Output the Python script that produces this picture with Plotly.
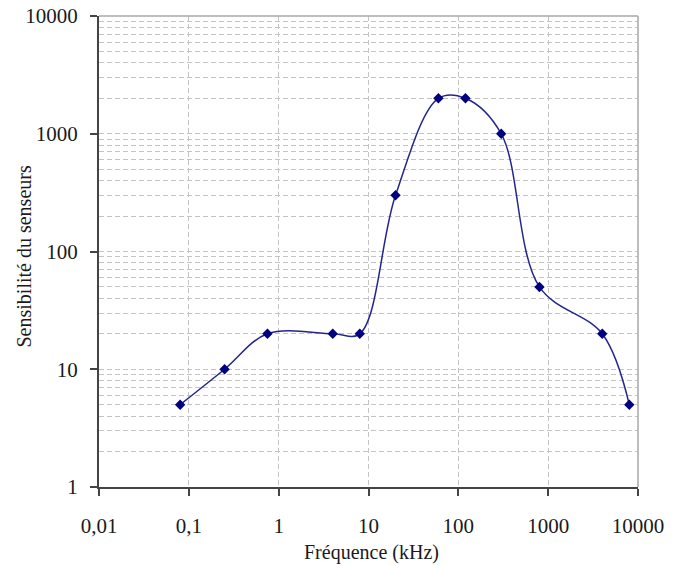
import plotly.graph_objects as go

# Data
frequence_khz = [0.08, 0.25, 0.75, 4, 8, 20, 60, 120, 300, 800, 4000, 8000]
sensibilite = [5, 10, 20, 20, 20, 300, 2000, 2000, 1000, 50, 20, 5]

x_tickvals = [0.01, 0.1, 1, 10, 100, 1000, 10000]
x_ticktext = ["0,01", "0,1", "1", "10", "100", "1000", "10000"]
y_tickvals = [1, 10, 100, 1000, 10000]
y_ticktext = ["1", "10", "100", "1000", "10000"]

FONT = "Liberation Serif"
GRID = "#c4c4c4"
NAVY = "#000080"
TXT = "#1a1a1a"

fig = go.Figure()
fig.add_trace(go.Scatter(
    x=frequence_khz, y=sensibilite,
    mode="lines+markers",
    line=dict(shape="spline", smoothing=1.0, color="#24248f", width=1.5),
    marker=dict(symbol="diamond", size=8, color=NAVY),
    showlegend=False,
))

fig.update_layout(
    width=673, height=566,
    margin=dict(l=99, r=35, t=16, b=79),
    paper_bgcolor="white", plot_bgcolor="white",
    font=dict(family=FONT, size=20, color=TXT),
    xaxis=dict(
        type="log", range=[-2, 4], automargin=False,
        tickvals=x_tickvals, ticktext=x_ticktext,
        tickfont=dict(family=FONT, size=21, color=TXT),
        ticks="outside", ticklen=7, tickwidth=1.5, tickcolor="#444444",
        ticklabelstandoff=12, ticklabeloverflow="allow",
        showgrid=True, gridcolor=GRID, griddash="5px,3px", gridwidth=1,
        showline=True, linecolor="#444444", linewidth=2, mirror=False,
        zeroline=False,
    ),
    yaxis=dict(
        type="log", range=[0, 4], automargin=False,
        tickvals=y_tickvals, ticktext=y_ticktext,
        tickfont=dict(family=FONT, size=21, color=TXT),
        ticks="outside", ticklen=7, tickwidth=1.5, tickcolor="#444444",
        ticklabelstandoff=8, ticklabeloverflow="allow",
        showgrid=True, gridcolor=GRID, griddash="5px,3px", gridwidth=1,
        minor=dict(dtick="D1", showgrid=True, gridcolor=GRID, griddash="5px,3px", gridwidth=1, ticks=""),
        showline=True, linecolor="#444444", linewidth=2, mirror=False,
        zeroline=False,
    ),
    annotations=[
        dict(text="Fréquence (kHz)", xref="paper", yref="paper", x=0.5, y=0,
             xanchor="center", yanchor="middle", xshift=3, yshift=-65, showarrow=False,
             font=dict(family=FONT, size=20, color=TXT)),
        dict(text="Sensibilité du senseurs", xref="paper", yref="paper", x=0, y=0.5,
             xanchor="center", yanchor="middle", xshift=-76, yshift=-5, textangle=-90,
             showarrow=False, font=dict(family=FONT, size=20, color=TXT)),
    ],
    shapes=[
        dict(type="line", xref="paper", yref="paper", x0=0, x1=1, y0=1, y1=1,
             line=dict(color="#a8a8a8", width=1.5), layer="above"),
        dict(type="line", xref="paper", yref="paper", x0=1, x1=1, y0=0, y1=1,
             line=dict(color="#a8a8a8", width=1.5), layer="above"),
    ],
)

# Remove the browser's default 8px body margin so the figure fills the window exactly.
fig.write_html("out.html", config={"displayModeBar": False},
               post_script="document.body.style.margin='0px';")
